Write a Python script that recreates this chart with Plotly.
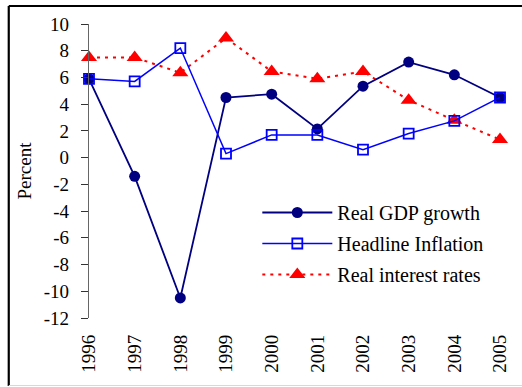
import plotly.graph_objects as go

# Annual series, percent
years = [1996, 1997, 1998, 1999, 2000, 2001, 2002, 2003, 2004, 2005]
real_gdp_growth = [5.9, -1.4, -10.5, 4.5, 4.75, 2.15, 5.35, 7.15, 6.2, 4.5]
headline_inflation = [5.9, 5.7, 8.2, 0.3, 1.7, 1.7, 0.6, 1.8, 2.75, 4.5]
real_interest_rates = [7.5, 7.5, 6.35, 8.95, 6.45, 5.9, 6.45, 4.3, 2.8, 1.35]

y_ticks = list(range(-12, 11, 2))
y_tick_text = [str(v) for v in y_ticks]  # plain hyphen for negatives
y_range = [-12, 10]

FONT = "Liberation Serif"
NAVY = "#000080"
BLUE = "#0000FF"
RED = "#FF0000"
AXIS = "#666666"

# plot-area geometry (px) used to place the frame in paper units
W, H = 522, 387
ML, MR, MT, MB = 89, 13, 24, 69
PW, PH = W - ML - MR, H - MT - MB


def px_x(x):
    return (x - ML) / PW


def px_y(y):
    return (H - MB - y) / PH


fig = go.Figure()

fig.add_trace(go.Scatter(
    x=years, y=real_interest_rates, name="Real interest rates",
    mode="lines+markers", legendrank=3, legendgroup="c",
    line=dict(color=RED, width=2, dash="3px,5px"),
    marker=dict(symbol="triangle-up", size=14, color=RED),
    cliponaxis=False,
))
fig.add_trace(go.Scatter(
    x=years, y=real_gdp_growth, name="Real GDP growth",
    mode="lines+markers", legendrank=1, legendgroup="a",
    line=dict(color=NAVY, width=1.8),
    marker=dict(symbol="circle", size=11, color=NAVY),
    cliponaxis=False,
))
fig.add_trace(go.Scatter(
    x=years, y=headline_inflation, name="Headline Inflation",
    mode="lines+markers", legendrank=2, legendgroup="b",
    line=dict(color=BLUE, width=1.5),
    marker=dict(symbol="square-open", size=10, color=BLUE, line=dict(width=1.8)),
    cliponaxis=False,
))

zero_pos = (0 - y_range[0]) / (y_range[1] - y_range[0])

fig.update_layout(
    width=W, height=H,
    margin=dict(l=ML, r=MR, t=MT, b=MB, pad=0),
    paper_bgcolor="white", plot_bgcolor="white",
    font=dict(family=FONT, size=19, color="black"),
    showlegend=True,
    legend=dict(
        x=px_x(261), y=px_y(193), xanchor="left", yanchor="top",
        font=dict(family=FONT, size=20, color="black"),
        bgcolor="rgba(0,0,0,0)", traceorder="grouped", tracegroupgap=2,
        itemwidth=70,
    ),
    xaxis=dict(
        range=[years[0], years[-1]], tickvals=years, ticktext=[str(y) for y in years],
        tickangle=-90, ticks="", showline=False, showgrid=False, zeroline=False,
        ticklabelstandoff=12, tickfont=dict(family=FONT, size=19),
    ),
    xaxis2=dict(
        overlaying="x", anchor="free", position=zero_pos,
        range=[years[0], years[-1]], tickvals=years, showticklabels=False,
        ticks="outside", ticklen=7, tickcolor="#333333", tickwidth=1,
        showline=True, linecolor=AXIS, linewidth=1.2, showgrid=False, zeroline=False,
    ),
    yaxis=dict(
        range=y_range, tickvals=y_ticks, ticktext=y_tick_text,
        ticks="outside", ticklen=7, tickcolor="#333333", tickwidth=1,
        showline=True, linecolor=AXIS, linewidth=1.2, showgrid=False, zeroline=False,
        ticklabelstandoff=8, tickfont=dict(family=FONT, size=19),
        title=dict(text="Percent", font=dict(family=FONT, size=19), standoff=7),
    ),
    shapes=[
        # chart frame
        dict(type="line", xref="paper", yref="paper",
             x0=px_x(7), x1=px_x(540), y0=px_y(6), y1=px_y(6),
             line=dict(color="black", width=2.2)),
        dict(type="line", xref="paper", yref="paper",
             x0=px_x(7), x1=px_x(7), y0=px_y(6), y1=px_y(386),
             line=dict(color="black", width=2.2)),
        dict(type="line", xref="paper", yref="paper",
             x0=px_x(7), x1=px_x(540), y0=px_y(385.5), y1=px_y(385.5),
             line=dict(color="#d8d8d8", width=1)),
    ],
)

fig.write_html("out.html")
